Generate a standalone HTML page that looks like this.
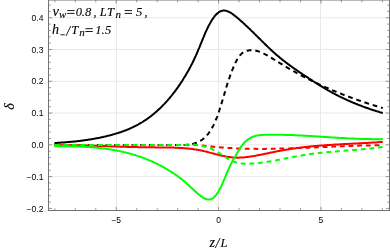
<!DOCTYPE html>
<html><head><meta charset="utf-8"><style>
html,body{margin:0;padding:0;background:#fff;}
body{width:390px;height:252px;overflow:hidden;position:relative;font-family:"Liberation Serif",serif;}
svg{position:absolute;left:0;top:0;}
.t{font-family:"Liberation Serif",serif;font-style:italic;fill:#000;stroke:#000;stroke-width:0.12px;}
</style></head><body>
<svg width="390" height="252" viewBox="0 0 390 252">
<line x1="48.5" x2="389.5" y1="176.63" y2="176.63" stroke="#e9e9e9" stroke-width="1"/>
<line x1="48.5" x2="389.5" y1="144.85" y2="144.85" stroke="#e9e9e9" stroke-width="1"/>
<line x1="48.5" x2="389.5" y1="113.07" y2="113.07" stroke="#e9e9e9" stroke-width="1"/>
<line x1="48.5" x2="389.5" y1="81.29" y2="81.29" stroke="#e9e9e9" stroke-width="1"/>
<line x1="48.5" x2="389.5" y1="49.51" y2="49.51" stroke="#e9e9e9" stroke-width="1"/>
<line x1="48.5" x2="389.5" y1="17.73" y2="17.73" stroke="#e9e9e9" stroke-width="1"/>
<line x1="116.50" x2="116.50" y1="0.0" y2="210.5" stroke="#e9e9e9" stroke-width="1"/>
<line x1="218.50" x2="218.50" y1="0.0" y2="210.5" stroke="#e9e9e9" stroke-width="1"/>
<line x1="320.50" x2="320.50" y1="0.0" y2="210.5" stroke="#e9e9e9" stroke-width="1"/>
<path d="M54.4,143.0 L55.2,143.0 L56.0,142.9 L56.9,142.9 L57.7,142.8 L58.5,142.8 L59.3,142.7 L60.2,142.7 L61.0,142.6 L61.8,142.6 L62.6,142.5 L63.5,142.5 L64.3,142.4 L65.1,142.3 L65.9,142.3 L66.7,142.2 L67.6,142.1 L68.4,142.1 L69.2,142.0 L70.0,141.9 L70.9,141.8 L71.7,141.8 L72.5,141.7 L73.3,141.6 L74.2,141.5 L75.0,141.4 L75.8,141.4 L76.6,141.3 L77.4,141.2 L78.3,141.1 L79.1,141.0 L79.9,140.9 L80.7,140.8 L81.6,140.7 L82.4,140.6 L83.2,140.5 L84.0,140.3 L84.9,140.2 L85.7,140.1 L86.5,140.0 L87.3,139.9 L88.1,139.7 L89.0,139.6 L89.8,139.5 L90.6,139.4 L91.4,139.2 L92.3,139.1 L93.1,138.9 L93.9,138.8 L94.7,138.6 L95.6,138.5 L96.4,138.3 L97.2,138.2 L98.0,138.0 L98.8,137.9 L99.7,137.7 L100.5,137.5 L101.3,137.3 L102.1,137.2 L103.0,137.0 L103.8,136.8 L104.6,136.6 L105.4,136.4 L106.3,136.2 L107.1,136.0 L107.9,135.8 L108.7,135.6 L109.5,135.4 L110.4,135.2 L111.2,135.0 L112.0,134.8 L112.8,134.5 L113.7,134.3 L114.5,134.1 L115.3,133.8 L116.1,133.6 L117.0,133.3 L117.8,133.1 L118.6,132.8 L119.4,132.6 L120.2,132.3 L121.1,132.0 L121.9,131.7 L122.7,131.4 L123.5,131.1 L124.4,130.8 L125.2,130.5 L126.0,130.2 L126.8,129.9 L127.7,129.5 L128.5,129.2 L129.3,128.8 L130.1,128.5 L130.9,128.1 L131.8,127.7 L132.6,127.3 L133.4,126.9 L134.2,126.5 L135.1,126.1 L135.9,125.7 L136.7,125.3 L137.5,124.8 L138.4,124.4 L139.2,123.9 L140.0,123.4 L140.8,123.0 L141.6,122.5 L142.5,122.0 L143.3,121.5 L144.1,120.9 L144.9,120.4 L145.8,119.8 L146.6,119.3 L147.4,118.7 L148.2,118.1 L149.1,117.5 L149.9,116.9 L150.7,116.3 L151.5,115.7 L152.3,115.0 L153.2,114.3 L154.0,113.7 L154.8,113.0 L155.6,112.3 L156.5,111.6 L157.3,110.8 L158.1,110.1 L158.9,109.3 L159.8,108.5 L160.6,107.8 L161.4,106.9 L162.2,106.1 L163.0,105.3 L163.9,104.4 L164.7,103.6 L165.5,102.7 L166.3,101.8 L167.2,100.8 L168.0,99.9 L168.8,99.0 L169.6,98.0 L170.5,97.0 L171.3,96.0 L172.1,95.0 L172.9,93.9 L173.7,92.9 L174.6,91.8 L175.4,90.7 L176.2,89.6 L177.0,88.4 L177.9,87.3 L178.7,86.1 L179.5,84.9 L180.3,83.7 L181.2,82.4 L182.0,81.2 L182.8,79.9 L183.6,78.6 L184.4,77.3 L185.3,75.9 L186.1,74.5 L186.9,73.1 L187.7,71.7 L188.6,70.2 L189.4,68.7 L190.2,67.2 L191.0,65.6 L191.9,64.0 L192.7,62.4 L193.5,60.7 L194.3,58.9 L195.1,57.2 L196.0,55.4 L196.8,53.5 L197.6,51.6 L198.4,49.6 L199.3,47.6 L200.1,45.6 L200.9,43.6 L201.7,41.6 L202.6,39.5 L203.4,37.5 L204.2,35.6 L205.0,33.6 L205.8,31.7 L206.7,29.9 L207.5,28.2 L208.3,26.5 L209.1,24.9 L210.0,23.4 L210.8,21.9 L211.6,20.6 L212.4,19.3 L213.3,18.1 L214.1,17.0 L214.9,15.9 L215.7,15.0 L216.5,14.1 L217.4,13.4 L218.2,12.7 L219.0,12.1 L219.8,11.6 L220.7,11.2 L221.5,10.9 L222.3,10.7 L223.1,10.6 L223.9,10.5 L224.8,10.6 L225.6,10.7 L226.4,10.9 L227.2,11.1 L228.1,11.5 L228.9,11.8 L229.7,12.3 L230.5,12.7 L231.4,13.2 L232.2,13.8 L233.0,14.4 L233.8,15.0 L234.6,15.6 L235.5,16.3 L236.3,16.9 L237.1,17.6 L237.9,18.3 L238.8,19.0 L239.6,19.7 L240.4,20.4 L241.2,21.2 L242.1,21.9 L242.9,22.6 L243.7,23.4 L244.5,24.1 L245.3,24.9 L246.2,25.7 L247.0,26.4 L247.8,27.2 L248.6,28.0 L249.5,28.8 L250.3,29.6 L251.1,30.4 L251.9,31.2 L252.8,32.0 L253.6,32.8 L254.4,33.6 L255.2,34.4 L256.0,35.2 L256.9,36.1 L257.7,36.9 L258.5,37.7 L259.3,38.5 L260.2,39.3 L261.0,40.1 L261.8,40.9 L262.6,41.8 L263.5,42.6 L264.3,43.4 L265.1,44.2 L265.9,45.0 L266.7,45.8 L267.6,46.6 L268.4,47.4 L269.2,48.1 L270.0,48.9 L270.9,49.7 L271.7,50.5 L272.5,51.2 L273.3,52.0 L274.2,52.7 L275.0,53.4 L275.8,54.2 L276.6,54.9 L277.4,55.6 L278.3,56.3 L279.1,57.0 L279.9,57.7 L280.7,58.4 L281.6,59.0 L282.4,59.7 L283.2,60.4 L284.0,61.0 L284.9,61.6 L285.7,62.3 L286.5,62.9 L287.3,63.5 L288.1,64.1 L289.0,64.7 L289.8,65.4 L290.6,65.9 L291.4,66.5 L292.3,67.1 L293.1,67.7 L293.9,68.3 L294.7,68.9 L295.6,69.4 L296.4,70.0 L297.2,70.6 L298.0,71.1 L298.8,71.7 L299.7,72.3 L300.5,72.8 L301.3,73.4 L302.1,73.9 L303.0,74.5 L303.8,75.0 L304.6,75.6 L305.4,76.1 L306.3,76.7 L307.1,77.2 L307.9,77.7 L308.7,78.3 L309.5,78.8 L310.4,79.4 L311.2,79.9 L312.0,80.4 L312.8,81.0 L313.7,81.5 L314.5,82.0 L315.3,82.6 L316.1,83.1 L317.0,83.6 L317.8,84.1 L318.6,84.6 L319.4,85.1 L320.2,85.7 L321.1,86.2 L321.9,86.7 L322.7,87.2 L323.5,87.7 L324.4,88.1 L325.2,88.6 L326.0,89.1 L326.8,89.6 L327.7,90.1 L328.5,90.5 L329.3,91.0 L330.1,91.5 L330.9,91.9 L331.8,92.4 L332.6,92.8 L333.4,93.3 L334.2,93.7 L335.1,94.1 L335.9,94.6 L336.7,95.0 L337.5,95.4 L338.4,95.8 L339.2,96.3 L340.0,96.7 L340.8,97.1 L341.6,97.5 L342.5,97.9 L343.3,98.3 L344.1,98.6 L344.9,99.0 L345.8,99.4 L346.6,99.8 L347.4,100.2 L348.2,100.5 L349.1,100.9 L349.9,101.3 L350.7,101.6 L351.5,102.0 L352.3,102.3 L353.2,102.7 L354.0,103.0 L354.8,103.3 L355.6,103.7 L356.5,104.0 L357.3,104.3 L358.1,104.7 L358.9,105.0 L359.8,105.3 L360.6,105.6 L361.4,105.9 L362.2,106.2 L363.0,106.6 L363.9,106.9 L364.7,107.2 L365.5,107.5 L366.3,107.7 L367.2,108.0 L368.0,108.3 L368.8,108.6 L369.6,108.9 L370.5,109.2 L371.3,109.5 L372.1,109.7 L372.9,110.0 L373.7,110.3 L374.6,110.5 L375.4,110.8 L376.2,111.1 L377.0,111.3 L377.9,111.6 L378.7,111.8 L379.5,112.1 L380.3,112.4 L381.2,112.6 L382.0,112.8 L382.8,113.1" fill="none" stroke="#000" stroke-width="2.0" stroke-linejoin="round"/>
<path d="M54.4,144.9 L185.0,144.9 L185.5,144.9 L186.0,144.9 L186.5,144.9 L187.0,144.8 L187.5,144.8 L188.0,144.7 L188.5,144.7 L189.0,144.6 L189.5,144.5 L190.0,144.5 L190.5,144.4 L190.9,144.3 L191.4,144.2 L191.9,144.1 L192.4,144.0 L192.9,143.9 L193.4,143.7 L193.9,143.6 L194.4,143.5 L194.9,143.3 L195.4,143.1 L195.9,143.0 L196.4,142.8 L196.9,142.6 L197.4,142.4 L197.9,142.1 L198.4,141.9 L198.9,141.7 L199.4,141.4 L199.9,141.1 L200.4,140.8 L200.9,140.5 L201.4,140.2 L201.9,139.9 L202.4,139.5 L202.8,139.2 L203.3,138.8 L203.8,138.4 L204.3,137.9 L204.8,137.5 L205.3,137.0 L205.8,136.5 L206.3,136.0 L206.8,135.5 L207.3,134.9 L207.8,134.3 L208.3,133.7 L208.8,133.0 L209.3,132.3 L209.8,131.6 L210.3,130.9 L210.8,130.1 L211.3,129.3 L211.8,128.4 L212.3,127.5 L212.8,126.6 L213.3,125.6 L213.8,124.6 L214.2,123.6 L214.7,122.5 L215.2,121.4 L215.7,120.2 L216.2,119.0 L216.7,117.8 L217.2,116.5 L217.7,115.1 L218.2,113.7 L218.7,112.3 L219.2,110.8 L219.7,109.3 L220.2,107.7 L220.7,106.1 L221.2,104.5 L221.7,102.9 L222.2,101.2 L222.7,99.5 L223.2,97.9 L223.7,96.2 L224.2,94.5 L224.7,92.9 L225.2,91.2 L225.7,89.6 L226.1,88.0 L226.6,86.4 L227.1,84.8 L227.6,83.3 L228.1,81.7 L228.6,80.2 L229.1,78.7 L229.6,77.3 L230.1,75.8 L230.6,74.5 L231.1,73.1 L231.6,71.8 L232.1,70.5 L232.6,69.2 L233.1,68.0 L233.6,66.8 L234.1,65.6 L234.6,64.5 L235.1,63.4 L235.6,62.4 L236.1,61.4 L236.6,60.5 L237.1,59.6 L237.5,58.8 L238.0,58.0 L238.5,57.2 L239.0,56.5 L239.5,55.9 L240.0,55.3 L240.5,54.7 L241.0,54.2 L241.5,53.8 L242.0,53.3 L242.5,52.9 L243.0,52.6 L243.5,52.3 L244.0,52.0 L244.5,51.7 L245.0,51.5 L245.5,51.3 L246.0,51.1 L246.5,50.9 L247.0,50.8 L247.5,50.7 L248.0,50.6 L248.5,50.5 L249.0,50.4 L249.4,50.3 L249.9,50.3 L250.4,50.3 L250.9,50.2 L251.4,50.2 L251.9,50.2 L252.4,50.3 L252.9,50.3 L253.4,50.3 L253.9,50.4 L254.4,50.5 L254.9,50.5 L255.4,50.6 L255.9,50.7 L256.4,50.8 L256.9,51.0 L257.4,51.1 L257.9,51.2 L258.4,51.4 L258.9,51.6 L259.4,51.7 L259.9,51.9 L260.4,52.1 L260.8,52.3 L261.3,52.5 L261.8,52.7 L262.3,52.9 L262.8,53.1 L263.3,53.4 L263.8,53.6 L264.3,53.9 L264.8,54.1 L265.3,54.4 L265.8,54.6 L266.3,54.9 L266.8,55.2 L267.3,55.4 L267.8,55.7 L268.3,56.0 L268.8,56.3 L269.3,56.6 L269.8,56.9 L270.3,57.2 L270.8,57.5 L271.3,57.8 L271.8,58.1 L272.3,58.4 L272.7,58.7 L273.2,59.0 L273.7,59.3 L274.2,59.6 L274.7,59.9 L275.2,60.3 L275.7,60.6 L276.2,60.9 L276.7,61.2 L277.2,61.5 L277.7,61.8 L278.2,62.1 L278.7,62.4 L279.2,62.7 L279.7,63.0 L280.2,63.3 L280.7,63.6 L281.2,63.9 L281.7,64.2 L282.2,64.5 L282.7,64.8 L283.2,65.1 L283.7,65.4 L284.1,65.7 L284.6,66.0 L285.1,66.3 L285.6,66.6 L286.1,66.9 L286.6,67.2 L287.1,67.5 L287.6,67.8 L288.1,68.1 L288.6,68.4 L289.1,68.7 L289.6,68.9 L290.1,69.2 L290.6,69.5 L291.1,69.8 L291.6,70.1 L292.1,70.4 L292.6,70.6 L293.1,70.9 L293.6,71.2 L294.1,71.5 L294.6,71.7 L295.1,72.0 L295.5,72.3 L296.0,72.6 L296.5,72.8 L297.0,73.1 L297.5,73.4 L298.0,73.7 L298.5,73.9 L299.0,74.2 L299.5,74.5 L300.0,74.7 L300.5,75.0 L301.0,75.3 L301.5,75.5 L302.0,75.8 L302.5,76.1 L303.0,76.3 L303.5,76.6 L304.0,76.8 L304.5,77.1 L305.0,77.3 L305.5,77.6 L306.0,77.9 L306.5,78.1 L307.0,78.4 L307.4,78.6 L307.9,78.9 L308.4,79.1 L308.9,79.4 L309.4,79.6 L309.9,79.9 L310.4,80.1 L310.9,80.4 L311.4,80.6 L311.9,80.9 L312.4,81.1 L312.9,81.3 L313.4,81.6 L313.9,81.8 L314.4,82.1 L314.9,82.3 L315.4,82.5 L315.9,82.8 L316.4,83.0 L316.9,83.3 L317.4,83.5 L317.9,83.7 L318.4,84.0 L318.8,84.2 L319.3,84.4 L319.8,84.7 L320.3,84.9 L320.8,85.1 L321.3,85.3 L321.8,85.6 L322.3,85.8 L322.8,86.0 L323.3,86.2 L323.8,86.5 L324.3,86.7 L324.8,86.9 L325.3,87.1 L325.8,87.4 L326.3,87.6 L326.8,87.8 L327.3,88.0 L327.8,88.2 L328.3,88.4 L328.8,88.7 L329.3,88.9 L329.8,89.1 L330.3,89.3 L330.7,89.5 L331.2,89.7 L331.7,89.9 L332.2,90.1 L332.7,90.4 L333.2,90.6 L333.7,90.8 L334.2,91.0 L334.7,91.2 L335.2,91.4 L335.7,91.6 L336.2,91.8 L336.7,92.0 L337.2,92.2 L337.7,92.4 L338.2,92.6 L338.7,92.8 L339.2,93.0 L339.7,93.2 L340.2,93.4 L340.7,93.6 L341.2,93.8 L341.7,94.0 L342.1,94.2 L342.6,94.4 L343.1,94.6 L343.6,94.8 L344.1,95.0 L344.6,95.2 L345.1,95.4 L345.6,95.5 L346.1,95.7 L346.6,95.9 L347.1,96.1 L347.6,96.3 L348.1,96.5 L348.6,96.7 L349.1,96.9 L349.6,97.0 L350.1,97.2 L350.6,97.4 L351.1,97.6 L351.6,97.8 L352.1,98.0 L352.6,98.1 L353.1,98.3 L353.6,98.5 L354.0,98.7 L354.5,98.9 L355.0,99.0 L355.5,99.2 L356.0,99.4 L356.5,99.6 L357.0,99.7 L357.5,99.9 L358.0,100.1 L358.5,100.3 L359.0,100.4 L359.5,100.6 L360.0,100.8 L360.5,100.9 L361.0,101.1 L361.5,101.3 L362.0,101.5 L362.5,101.6 L363.0,101.8 L363.5,102.0 L364.0,102.1 L364.5,102.3 L365.0,102.5 L365.4,102.6 L365.9,102.8 L366.4,103.0 L366.9,103.1 L367.4,103.3 L367.9,103.4 L368.4,103.6 L368.9,103.8 L369.4,103.9 L369.9,104.1 L370.4,104.2 L370.9,104.4 L371.4,104.6 L371.9,104.7 L372.4,104.9 L372.9,105.0 L373.4,105.2 L373.9,105.4 L374.4,105.5 L374.9,105.7 L375.4,105.8 L375.9,106.0 L376.4,106.1 L376.9,106.3 L377.3,106.4 L377.8,106.6 L378.3,106.7 L378.8,106.9 L379.3,107.0 L379.8,107.2 L380.3,107.3 L380.8,107.5 L381.3,107.6 L381.8,107.8 L382.3,107.9 L382.8,108.1" fill="none" stroke="#000" stroke-width="2.0" stroke-dasharray="4.8 3.875" stroke-dashoffset="0.9" stroke-linejoin="round"/>
<path d="M54.4,145.2 L55.2,145.2 L56.0,145.2 L56.9,145.2 L57.7,145.2 L58.5,145.2 L59.3,145.2 L60.2,145.2 L61.0,145.2 L61.8,145.2 L62.6,145.2 L63.5,145.2 L64.3,145.2 L65.1,145.2 L65.9,145.2 L66.7,145.2 L67.6,145.2 L68.4,145.2 L69.2,145.2 L70.0,145.2 L70.9,145.2 L71.7,145.2 L72.5,145.2 L73.3,145.3 L74.2,145.3 L75.0,145.3 L75.8,145.3 L76.6,145.3 L77.4,145.3 L78.3,145.3 L79.1,145.4 L79.9,145.4 L80.7,145.4 L81.6,145.4 L82.4,145.4 L83.2,145.5 L84.0,145.5 L84.9,145.5 L85.7,145.5 L86.5,145.5 L87.3,145.6 L88.1,145.6 L89.0,145.6 L89.8,145.6 L90.6,145.7 L91.4,145.7 L92.3,145.7 L93.1,145.7 L93.9,145.8 L94.7,145.8 L95.6,145.8 L96.4,145.8 L97.2,145.9 L98.0,145.9 L98.8,145.9 L99.7,145.9 L100.5,146.0 L101.3,146.0 L102.1,146.0 L103.0,146.1 L103.8,146.1 L104.6,146.1 L105.4,146.1 L106.3,146.2 L107.1,146.2 L107.9,146.2 L108.7,146.3 L109.5,146.3 L110.4,146.3 L111.2,146.4 L112.0,146.4 L112.8,146.4 L113.7,146.4 L114.5,146.5 L115.3,146.5 L116.1,146.5 L117.0,146.6 L117.8,146.6 L118.6,146.6 L119.4,146.6 L120.2,146.7 L121.1,146.7 L121.9,146.7 L122.7,146.7 L123.5,146.8 L124.4,146.8 L125.2,146.8 L126.0,146.8 L126.8,146.9 L127.7,146.9 L128.5,146.9 L129.3,146.9 L130.1,147.0 L130.9,147.0 L131.8,147.0 L132.6,147.0 L133.4,147.0 L134.2,147.1 L135.1,147.1 L135.9,147.1 L136.7,147.1 L137.5,147.1 L138.4,147.2 L139.2,147.2 L140.0,147.2 L140.8,147.2 L141.6,147.2 L142.5,147.2 L143.3,147.2 L144.1,147.3 L144.9,147.3 L145.8,147.3 L146.6,147.3 L147.4,147.3 L148.2,147.3 L149.1,147.3 L149.9,147.3 L150.7,147.3 L151.5,147.3 L152.3,147.3 L153.2,147.3 L154.0,147.3 L154.8,147.3 L155.6,147.4 L156.5,147.4 L157.3,147.4 L158.1,147.4 L158.9,147.4 L159.8,147.4 L160.6,147.4 L161.4,147.4 L162.2,147.4 L163.0,147.4 L163.9,147.4 L164.7,147.4 L165.5,147.4 L166.3,147.5 L167.2,147.5 L168.0,147.5 L168.8,147.5 L169.6,147.5 L170.5,147.5 L171.3,147.6 L172.1,147.6 L172.9,147.6 L173.7,147.6 L174.6,147.7 L175.4,147.7 L176.2,147.7 L177.0,147.8 L177.9,147.8 L178.7,147.9 L179.5,147.9 L180.3,147.9 L181.2,148.0 L182.0,148.0 L182.8,148.1 L183.6,148.2 L184.4,148.2 L185.3,148.3 L186.1,148.3 L186.9,148.4 L187.7,148.5 L188.6,148.6 L189.4,148.7 L190.2,148.7 L191.0,148.8 L191.9,148.9 L192.7,149.0 L193.5,149.2 L194.3,149.3 L195.1,149.4 L196.0,149.5 L196.8,149.7 L197.6,149.8 L198.4,150.0 L199.3,150.1 L200.1,150.3 L200.9,150.5 L201.7,150.6 L202.6,150.8 L203.4,151.0 L204.2,151.2 L205.0,151.4 L205.8,151.6 L206.7,151.8 L207.5,152.0 L208.3,152.2 L209.1,152.4 L210.0,152.7 L210.8,152.9 L211.6,153.1 L212.4,153.3 L213.3,153.5 L214.1,153.7 L214.9,154.0 L215.7,154.2 L216.5,154.4 L217.4,154.6 L218.2,154.8 L219.0,155.0 L219.8,155.2 L220.7,155.4 L221.5,155.6 L222.3,155.8 L223.1,156.0 L223.9,156.1 L224.8,156.3 L225.6,156.5 L226.4,156.6 L227.2,156.7 L228.1,156.9 L228.9,157.0 L229.7,157.1 L230.5,157.2 L231.4,157.3 L232.2,157.4 L233.0,157.5 L233.8,157.5 L234.6,157.6 L235.5,157.6 L236.3,157.6 L237.1,157.7 L237.9,157.7 L238.8,157.7 L239.6,157.6 L240.4,157.6 L241.2,157.6 L242.1,157.5 L242.9,157.5 L243.7,157.4 L244.5,157.3 L245.3,157.2 L246.2,157.1 L247.0,157.0 L247.8,156.9 L248.6,156.8 L249.5,156.7 L250.3,156.6 L251.1,156.5 L251.9,156.3 L252.8,156.2 L253.6,156.1 L254.4,155.9 L255.2,155.8 L256.0,155.6 L256.9,155.5 L257.7,155.3 L258.5,155.1 L259.3,155.0 L260.2,154.8 L261.0,154.7 L261.8,154.5 L262.6,154.3 L263.5,154.2 L264.3,154.0 L265.1,153.8 L265.9,153.7 L266.7,153.5 L267.6,153.3 L268.4,153.2 L269.2,153.0 L270.0,152.8 L270.9,152.6 L271.7,152.5 L272.5,152.3 L273.3,152.1 L274.2,152.0 L275.0,151.8 L275.8,151.6 L276.6,151.5 L277.4,151.3 L278.3,151.1 L279.1,151.0 L279.9,150.8 L280.7,150.7 L281.6,150.5 L282.4,150.4 L283.2,150.2 L284.0,150.1 L284.9,149.9 L285.7,149.8 L286.5,149.6 L287.3,149.5 L288.1,149.4 L289.0,149.2 L289.8,149.1 L290.6,149.0 L291.4,148.8 L292.3,148.7 L293.1,148.6 L293.9,148.5 L294.7,148.4 L295.6,148.2 L296.4,148.1 L297.2,148.0 L298.0,147.9 L298.8,147.8 L299.7,147.7 L300.5,147.6 L301.3,147.5 L302.1,147.4 L303.0,147.3 L303.8,147.2 L304.6,147.1 L305.4,147.0 L306.3,146.9 L307.1,146.8 L307.9,146.7 L308.7,146.7 L309.5,146.6 L310.4,146.5 L311.2,146.4 L312.0,146.3 L312.8,146.2 L313.7,146.2 L314.5,146.1 L315.3,146.0 L316.1,146.0 L317.0,145.9 L317.8,145.8 L318.6,145.7 L319.4,145.7 L320.2,145.6 L321.1,145.5 L321.9,145.5 L322.7,145.4 L323.5,145.4 L324.4,145.3 L325.2,145.2 L326.0,145.2 L326.8,145.1 L327.7,145.1 L328.5,145.0 L329.3,145.0 L330.1,144.9 L330.9,144.9 L331.8,144.8 L332.6,144.7 L333.4,144.7 L334.2,144.6 L335.1,144.6 L335.9,144.6 L336.7,144.5 L337.5,144.5 L338.4,144.4 L339.2,144.4 L340.0,144.3 L340.8,144.3 L341.6,144.2 L342.5,144.2 L343.3,144.1 L344.1,144.1 L344.9,144.1 L345.8,144.0 L346.6,144.0 L347.4,143.9 L348.2,143.9 L349.1,143.8 L349.9,143.8 L350.7,143.8 L351.5,143.7 L352.3,143.7 L353.2,143.6 L354.0,143.6 L354.8,143.6 L355.6,143.5 L356.5,143.5 L357.3,143.4 L358.1,143.4 L358.9,143.3 L359.8,143.3 L360.6,143.3 L361.4,143.2 L362.2,143.2 L363.0,143.1 L363.9,143.1 L364.7,143.0 L365.5,143.0 L366.3,142.9 L367.2,142.9 L368.0,142.9 L368.8,142.8 L369.6,142.8 L370.5,142.7 L371.3,142.7 L372.1,142.6 L372.9,142.6 L373.7,142.5 L374.6,142.5 L375.4,142.4 L376.2,142.4 L377.0,142.3 L377.9,142.3 L378.7,142.2 L379.5,142.1 L380.3,142.1 L381.2,142.0 L382.0,142.0 L382.8,141.9" fill="none" stroke="#f00" stroke-width="2.0" stroke-linejoin="round"/>
<path d="M54.4,144.9 L198.0,144.9 L198.5,145.0 L198.9,145.1 L199.4,145.1 L199.9,145.2 L200.3,145.3 L200.8,145.3 L201.2,145.4 L201.7,145.4 L202.2,145.5 L202.6,145.6 L203.1,145.6 L203.6,145.7 L204.0,145.7 L204.5,145.8 L204.9,145.8 L205.4,145.9 L205.9,146.0 L206.3,146.0 L206.8,146.1 L207.3,146.1 L207.7,146.2 L208.2,146.2 L208.7,146.3 L209.1,146.3 L209.6,146.4 L210.0,146.4 L210.5,146.5 L211.0,146.5 L211.4,146.6 L211.9,146.6 L212.4,146.7 L212.8,146.7 L213.3,146.7 L213.7,146.8 L214.2,146.8 L214.7,146.9 L215.1,146.9 L215.6,147.0 L216.1,147.0 L216.5,147.0 L217.0,147.1 L217.5,147.1 L217.9,147.2 L218.4,147.2 L218.8,147.2 L219.3,147.3 L219.8,147.3 L220.2,147.4 L220.7,147.4 L221.2,147.4 L221.6,147.5 L222.1,147.5 L222.5,147.5 L223.0,147.6 L223.5,147.6 L223.9,147.6 L224.4,147.7 L224.9,147.7 L225.3,147.7 L225.8,147.8 L226.3,147.8 L226.7,147.8 L227.2,147.9 L227.6,147.9 L228.1,147.9 L228.6,147.9 L229.0,148.0 L229.5,148.0 L230.0,148.0 L230.4,148.1 L230.9,148.1 L231.3,148.1 L231.8,148.1 L232.3,148.2 L232.7,148.2 L233.2,148.2 L233.7,148.2 L234.1,148.2 L234.6,148.3 L235.1,148.3 L235.5,148.3 L236.0,148.3 L236.4,148.4 L236.9,148.4 L237.4,148.4 L237.8,148.4 L238.3,148.4 L238.8,148.4 L239.2,148.5 L239.7,148.5 L240.1,148.5 L240.6,148.5 L241.1,148.5 L241.5,148.5 L242.0,148.6 L242.5,148.6 L242.9,148.6 L243.4,148.6 L243.9,148.6 L244.3,148.6 L244.8,148.6 L245.2,148.7 L245.7,148.7 L246.2,148.7 L246.6,148.7 L247.1,148.7 L247.6,148.7 L248.0,148.7 L248.5,148.7 L248.9,148.7 L249.4,148.8 L249.9,148.8 L250.3,148.8 L250.8,148.8 L251.3,148.8 L251.7,148.8 L252.2,148.8 L252.7,148.8 L253.1,148.8 L253.6,148.8 L254.0,148.8 L254.5,148.8 L255.0,148.8 L255.4,148.8 L255.9,148.8 L256.4,148.8 L256.8,148.9 L257.3,148.9 L257.7,148.9 L258.2,148.9 L258.7,148.9 L259.1,148.9 L259.6,148.9 L260.1,148.9 L260.5,148.9 L261.0,148.9 L261.5,148.9 L261.9,148.9 L262.4,148.9 L262.8,148.9 L263.3,148.9 L263.8,148.9 L264.2,148.9 L264.7,148.9 L265.2,148.9 L265.6,148.9 L266.1,148.9 L266.5,148.8 L267.0,148.8 L267.5,148.8 L267.9,148.8 L268.4,148.8 L268.9,148.8 L269.3,148.8 L269.8,148.8 L270.3,148.8 L270.7,148.8 L271.2,148.8 L271.6,148.8 L272.1,148.8 L272.6,148.8 L273.0,148.8 L273.5,148.8 L274.0,148.8 L274.4,148.8 L274.9,148.7 L275.3,148.7 L275.8,148.7 L276.3,148.7 L276.7,148.7 L277.2,148.7 L277.7,148.7 L278.1,148.7 L278.6,148.7 L279.1,148.7 L279.5,148.7 L280.0,148.6 L280.4,148.6 L280.9,148.6 L281.4,148.6 L281.8,148.6 L282.3,148.6 L282.8,148.6 L283.2,148.6 L283.7,148.6 L284.1,148.5 L284.6,148.5 L285.1,148.5 L285.5,148.5 L286.0,148.5 L286.5,148.5 L286.9,148.5 L287.4,148.5 L287.9,148.4 L288.3,148.4 L288.8,148.4 L289.2,148.4 L289.7,148.4 L290.2,148.4 L290.6,148.4 L291.1,148.3 L291.6,148.3 L292.0,148.3 L292.5,148.3 L292.9,148.3 L293.4,148.3 L293.9,148.2 L294.3,148.2 L294.8,148.2 L295.3,148.2 L295.7,148.2 L296.2,148.2 L296.7,148.1 L297.1,148.1 L297.6,148.1 L298.0,148.1 L298.5,148.1 L299.0,148.1 L299.4,148.0 L299.9,148.0 L300.4,148.0 L300.8,148.0 L301.3,148.0 L301.7,148.0 L302.2,147.9 L302.7,147.9 L303.1,147.9 L303.6,147.9 L304.1,147.9 L304.5,147.8 L305.0,147.8 L305.5,147.8 L305.9,147.8 L306.4,147.8 L306.8,147.8 L307.3,147.7 L307.8,147.7 L308.2,147.7 L308.7,147.7 L309.2,147.7 L309.6,147.6 L310.1,147.6 L310.5,147.6 L311.0,147.6 L311.5,147.6 L311.9,147.5 L312.4,147.5 L312.9,147.5 L313.3,147.5 L313.8,147.5 L314.3,147.4 L314.7,147.4 L315.2,147.4 L315.6,147.4 L316.1,147.4 L316.6,147.3 L317.0,147.3 L317.5,147.3 L318.0,147.3 L318.4,147.3 L318.9,147.2 L319.3,147.2 L319.8,147.2 L320.3,147.2 L320.7,147.2 L321.2,147.1 L321.7,147.1 L322.1,147.1 L322.6,147.1 L323.1,147.1 L323.5,147.0 L324.0,147.0 L324.4,147.0 L324.9,147.0 L325.4,147.0 L325.8,146.9 L326.3,146.9 L326.8,146.9 L327.2,146.9 L327.7,146.8 L328.1,146.8 L328.6,146.8 L329.1,146.8 L329.5,146.8 L330.0,146.7 L330.5,146.7 L330.9,146.7 L331.4,146.7 L331.9,146.7 L332.3,146.6 L332.8,146.6 L333.2,146.6 L333.7,146.6 L334.2,146.6 L334.6,146.5 L335.1,146.5 L335.6,146.5 L336.0,146.5 L336.5,146.5 L336.9,146.4 L337.4,146.4 L337.9,146.4 L338.3,146.4 L338.8,146.4 L339.3,146.4 L339.7,146.3 L340.2,146.3 L340.7,146.3 L341.1,146.3 L341.6,146.3 L342.0,146.2 L342.5,146.2 L343.0,146.2 L343.4,146.2 L343.9,146.2 L344.4,146.1 L344.8,146.1 L345.3,146.1 L345.7,146.1 L346.2,146.1 L346.7,146.1 L347.1,146.0 L347.6,146.0 L348.1,146.0 L348.5,146.0 L349.0,146.0 L349.5,146.0 L349.9,145.9 L350.4,145.9 L350.8,145.9 L351.3,145.9 L351.8,145.9 L352.2,145.9 L352.7,145.8 L353.2,145.8 L353.6,145.8 L354.1,145.8 L354.5,145.8 L355.0,145.8 L355.5,145.8 L355.9,145.7 L356.4,145.7 L356.9,145.7 L357.3,145.7 L357.8,145.7 L358.3,145.7 L358.7,145.7 L359.2,145.6 L359.6,145.6 L360.1,145.6 L360.6,145.6 L361.0,145.6 L361.5,145.6 L362.0,145.6 L362.4,145.6 L362.9,145.5 L363.3,145.5 L363.8,145.5 L364.3,145.5 L364.7,145.5 L365.2,145.5 L365.7,145.5 L366.1,145.5 L366.6,145.5 L367.1,145.4 L367.5,145.4 L368.0,145.4 L368.4,145.4 L368.9,145.4 L369.4,145.4 L369.8,145.4 L370.3,145.4 L370.8,145.4 L371.2,145.4 L371.7,145.4 L372.1,145.4 L372.6,145.3 L373.1,145.3 L373.5,145.3 L374.0,145.3 L374.5,145.3 L374.9,145.3 L375.4,145.3 L375.9,145.3 L376.3,145.3 L376.8,145.3 L377.2,145.3 L377.7,145.3 L378.2,145.3 L378.6,145.3 L379.1,145.3 L379.6,145.3 L380.0,145.3 L380.5,145.3 L380.9,145.3 L381.4,145.3 L381.9,145.3 L382.3,145.3 L382.8,145.3" fill="none" stroke="#f00" stroke-width="2.0" stroke-dasharray="4.8 3.875" stroke-linejoin="round"/>
<path d="M54.4,146.2 L55.2,146.2 L56.0,146.2 L56.9,146.2 L57.7,146.2 L58.5,146.2 L59.3,146.2 L60.2,146.2 L61.0,146.2 L61.8,146.3 L62.6,146.3 L63.5,146.3 L64.3,146.3 L65.1,146.3 L65.9,146.3 L66.7,146.3 L67.6,146.3 L68.4,146.3 L69.2,146.3 L70.0,146.3 L70.9,146.4 L71.7,146.4 L72.5,146.4 L73.3,146.4 L74.2,146.4 L75.0,146.5 L75.8,146.5 L76.6,146.5 L77.4,146.5 L78.3,146.6 L79.1,146.6 L79.9,146.6 L80.7,146.7 L81.6,146.7 L82.4,146.7 L83.2,146.8 L84.0,146.8 L84.9,146.8 L85.7,146.9 L86.5,146.9 L87.3,147.0 L88.1,147.0 L89.0,147.1 L89.8,147.1 L90.6,147.2 L91.4,147.3 L92.3,147.3 L93.1,147.4 L93.9,147.5 L94.7,147.5 L95.6,147.6 L96.4,147.7 L97.2,147.8 L98.0,147.8 L98.8,147.9 L99.7,148.0 L100.5,148.1 L101.3,148.2 L102.1,148.3 L103.0,148.4 L103.8,148.5 L104.6,148.6 L105.4,148.7 L106.3,148.8 L107.1,148.9 L107.9,149.0 L108.7,149.2 L109.5,149.3 L110.4,149.4 L111.2,149.6 L112.0,149.7 L112.8,149.8 L113.7,150.0 L114.5,150.1 L115.3,150.3 L116.1,150.4 L117.0,150.6 L117.8,150.7 L118.6,150.9 L119.4,151.1 L120.2,151.2 L121.1,151.4 L121.9,151.6 L122.7,151.8 L123.5,152.0 L124.4,152.2 L125.2,152.4 L126.0,152.6 L126.8,152.8 L127.7,153.0 L128.5,153.2 L129.3,153.4 L130.1,153.7 L130.9,153.9 L131.8,154.1 L132.6,154.4 L133.4,154.6 L134.2,154.9 L135.1,155.1 L135.9,155.4 L136.7,155.6 L137.5,155.9 L138.4,156.2 L139.2,156.4 L140.0,156.7 L140.8,157.0 L141.6,157.3 L142.5,157.6 L143.3,157.9 L144.1,158.2 L144.9,158.5 L145.8,158.9 L146.6,159.2 L147.4,159.5 L148.2,159.9 L149.1,160.2 L149.9,160.6 L150.7,160.9 L151.5,161.3 L152.3,161.6 L153.2,162.0 L154.0,162.4 L154.8,162.8 L155.6,163.2 L156.5,163.6 L157.3,164.0 L158.1,164.4 L158.9,164.8 L159.8,165.2 L160.6,165.6 L161.4,166.1 L162.2,166.5 L163.0,167.0 L163.9,167.4 L164.7,167.9 L165.5,168.4 L166.3,168.8 L167.2,169.3 L168.0,169.8 L168.8,170.3 L169.6,170.8 L170.5,171.3 L171.3,171.8 L172.1,172.4 L172.9,172.9 L173.7,173.5 L174.6,174.0 L175.4,174.6 L176.2,175.2 L177.0,175.7 L177.9,176.3 L178.7,176.9 L179.5,177.6 L180.3,178.2 L181.2,178.8 L182.0,179.5 L182.8,180.2 L183.6,180.8 L184.4,181.5 L185.3,182.2 L186.1,182.9 L186.9,183.7 L187.7,184.4 L188.6,185.2 L189.4,185.9 L190.2,186.7 L191.0,187.5 L191.9,188.2 L192.7,189.0 L193.5,189.8 L194.3,190.6 L195.1,191.3 L196.0,192.1 L196.8,192.8 L197.6,193.5 L198.4,194.2 L199.3,194.9 L200.1,195.5 L200.9,196.2 L201.7,196.7 L202.6,197.3 L203.4,197.8 L204.2,198.2 L205.0,198.6 L205.8,199.0 L206.7,199.2 L207.5,199.4 L208.3,199.5 L209.1,199.6 L210.0,199.5 L210.8,199.3 L211.6,199.0 L212.4,198.5 L213.3,198.0 L214.1,197.3 L214.9,196.4 L215.7,195.5 L216.5,194.4 L217.4,193.2 L218.2,191.9 L219.0,190.5 L219.8,189.0 L220.7,187.4 L221.5,185.7 L222.3,183.9 L223.1,182.1 L223.9,180.2 L224.8,178.2 L225.6,176.2 L226.4,174.2 L227.2,172.2 L228.1,170.3 L228.9,168.4 L229.7,166.6 L230.5,164.8 L231.4,163.2 L232.2,161.6 L233.0,160.2 L233.8,158.8 L234.6,157.4 L235.5,156.0 L236.3,154.5 L237.1,153.1 L237.9,151.8 L238.8,150.4 L239.6,149.1 L240.4,147.8 L241.2,146.6 L242.1,145.5 L242.9,144.4 L243.7,143.4 L244.5,142.5 L245.3,141.7 L246.2,140.9 L247.0,140.2 L247.8,139.6 L248.6,139.0 L249.5,138.5 L250.3,138.0 L251.1,137.6 L251.9,137.2 L252.8,136.8 L253.6,136.5 L254.4,136.2 L255.2,136.0 L256.0,135.8 L256.9,135.6 L257.7,135.4 L258.5,135.3 L259.3,135.2 L260.2,135.1 L261.0,135.0 L261.8,134.9 L262.6,134.9 L263.5,134.8 L264.3,134.8 L265.1,134.8 L265.9,134.7 L266.7,134.7 L267.6,134.7 L268.4,134.7 L269.2,134.7 L270.0,134.7 L270.9,134.7 L271.7,134.7 L272.5,134.7 L273.3,134.7 L274.2,134.7 L275.0,134.7 L275.8,134.7 L276.6,134.7 L277.4,134.7 L278.3,134.7 L279.1,134.7 L279.9,134.7 L280.7,134.8 L281.6,134.8 L282.4,134.8 L283.2,134.8 L284.0,134.8 L284.9,134.9 L285.7,134.9 L286.5,134.9 L287.3,134.9 L288.1,135.0 L289.0,135.0 L289.8,135.0 L290.6,135.0 L291.4,135.1 L292.3,135.1 L293.1,135.1 L293.9,135.2 L294.7,135.2 L295.6,135.2 L296.4,135.3 L297.2,135.3 L298.0,135.4 L298.8,135.4 L299.7,135.4 L300.5,135.5 L301.3,135.5 L302.1,135.6 L303.0,135.6 L303.8,135.7 L304.6,135.7 L305.4,135.7 L306.3,135.8 L307.1,135.8 L307.9,135.9 L308.7,135.9 L309.5,136.0 L310.4,136.0 L311.2,136.1 L312.0,136.1 L312.8,136.2 L313.7,136.2 L314.5,136.3 L315.3,136.3 L316.1,136.4 L317.0,136.4 L317.8,136.5 L318.6,136.5 L319.4,136.6 L320.2,136.7 L321.1,136.7 L321.9,136.8 L322.7,136.8 L323.5,136.9 L324.4,136.9 L325.2,137.0 L326.0,137.0 L326.8,137.1 L327.7,137.1 L328.5,137.2 L329.3,137.2 L330.1,137.3 L330.9,137.3 L331.8,137.4 L332.6,137.4 L333.4,137.5 L334.2,137.6 L335.1,137.6 L335.9,137.7 L336.7,137.7 L337.5,137.8 L338.4,137.8 L339.2,137.9 L340.0,137.9 L340.8,138.0 L341.6,138.0 L342.5,138.0 L343.3,138.1 L344.1,138.1 L344.9,138.2 L345.8,138.2 L346.6,138.3 L347.4,138.3 L348.2,138.4 L349.1,138.4 L349.9,138.4 L350.7,138.5 L351.5,138.5 L352.3,138.6 L353.2,138.6 L354.0,138.6 L354.8,138.7 L355.6,138.7 L356.5,138.7 L357.3,138.8 L358.1,138.8 L358.9,138.8 L359.8,138.9 L360.6,138.9 L361.4,138.9 L362.2,139.0 L363.0,139.0 L363.9,139.0 L364.7,139.0 L365.5,139.0 L366.3,139.1 L367.2,139.1 L368.0,139.1 L368.8,139.1 L369.6,139.1 L370.5,139.1 L371.3,139.1 L372.1,139.2 L372.9,139.2 L373.7,139.2 L374.6,139.2 L375.4,139.2 L376.2,139.2 L377.0,139.2 L377.9,139.2 L378.7,139.2 L379.5,139.2 L380.3,139.2 L381.2,139.2 L382.0,139.1 L382.8,139.1" fill="none" stroke="#0f0" stroke-width="2.0" stroke-linejoin="round"/>
<path d="M54.4,144.9 L185.0,145.0 L185.5,144.9 L186.0,144.8 L186.5,144.8 L187.0,144.7 L187.5,144.7 L188.0,144.6 L188.5,144.6 L189.0,144.6 L189.5,144.6 L190.0,144.6 L190.5,144.5 L190.9,144.5 L191.4,144.5 L191.9,144.5 L192.4,144.5 L192.9,144.6 L193.4,144.6 L193.9,144.6 L194.4,144.6 L194.9,144.7 L195.4,144.7 L195.9,144.8 L196.4,144.8 L196.9,144.9 L197.4,144.9 L197.9,145.0 L198.4,145.1 L198.9,145.2 L199.4,145.2 L199.9,145.3 L200.4,145.4 L200.9,145.5 L201.4,145.6 L201.9,145.7 L202.4,145.9 L202.8,146.0 L203.3,146.1 L203.8,146.2 L204.3,146.4 L204.8,146.5 L205.3,146.7 L205.8,146.8 L206.3,147.0 L206.8,147.1 L207.3,147.3 L207.8,147.5 L208.3,147.7 L208.8,147.9 L209.3,148.0 L209.8,148.2 L210.3,148.4 L210.8,148.7 L211.3,148.9 L211.8,149.1 L212.3,149.3 L212.8,149.5 L213.3,149.8 L213.8,150.0 L214.2,150.3 L214.7,150.5 L215.2,150.8 L215.7,151.0 L216.2,151.3 L216.7,151.6 L217.2,151.9 L217.7,152.2 L218.2,152.5 L218.7,152.8 L219.2,153.1 L219.7,153.4 L220.2,153.7 L220.7,154.0 L221.2,154.3 L221.7,154.6 L222.2,155.0 L222.7,155.3 L223.2,155.6 L223.7,155.9 L224.2,156.3 L224.7,156.6 L225.2,156.9 L225.7,157.2 L226.1,157.6 L226.6,157.9 L227.1,158.2 L227.6,158.5 L228.1,158.8 L228.6,159.1 L229.1,159.4 L229.6,159.6 L230.1,159.9 L230.6,160.2 L231.1,160.4 L231.6,160.7 L232.1,160.9 L232.6,161.1 L233.1,161.4 L233.6,161.6 L234.1,161.8 L234.6,161.9 L235.1,162.1 L235.6,162.3 L236.1,162.4 L236.6,162.6 L237.1,162.7 L237.5,162.8 L238.0,162.9 L238.5,163.0 L239.0,163.1 L239.5,163.2 L240.0,163.3 L240.5,163.4 L241.0,163.4 L241.5,163.5 L242.0,163.6 L242.5,163.6 L243.0,163.6 L243.5,163.7 L244.0,163.7 L244.5,163.7 L245.0,163.7 L245.5,163.7 L246.0,163.8 L246.5,163.8 L247.0,163.8 L247.5,163.8 L248.0,163.7 L248.5,163.7 L249.0,163.7 L249.4,163.7 L249.9,163.7 L250.4,163.7 L250.9,163.6 L251.4,163.6 L251.9,163.6 L252.4,163.5 L252.9,163.5 L253.4,163.5 L253.9,163.4 L254.4,163.4 L254.9,163.4 L255.4,163.3 L255.9,163.3 L256.4,163.2 L256.9,163.2 L257.4,163.1 L257.9,163.1 L258.4,163.0 L258.9,163.0 L259.4,162.9 L259.9,162.8 L260.4,162.8 L260.8,162.7 L261.3,162.7 L261.8,162.6 L262.3,162.5 L262.8,162.5 L263.3,162.4 L263.8,162.3 L264.3,162.3 L264.8,162.2 L265.3,162.1 L265.8,162.0 L266.3,162.0 L266.8,161.9 L267.3,161.8 L267.8,161.7 L268.3,161.7 L268.8,161.6 L269.3,161.5 L269.8,161.4 L270.3,161.3 L270.8,161.2 L271.3,161.2 L271.8,161.1 L272.3,161.0 L272.7,160.9 L273.2,160.8 L273.7,160.7 L274.2,160.6 L274.7,160.5 L275.2,160.5 L275.7,160.4 L276.2,160.3 L276.7,160.2 L277.2,160.1 L277.7,160.0 L278.2,159.9 L278.7,159.8 L279.2,159.7 L279.7,159.6 L280.2,159.5 L280.7,159.4 L281.2,159.3 L281.7,159.2 L282.2,159.1 L282.7,159.0 L283.2,158.9 L283.7,158.8 L284.1,158.7 L284.6,158.6 L285.1,158.5 L285.6,158.4 L286.1,158.3 L286.6,158.2 L287.1,158.1 L287.6,158.0 L288.1,157.9 L288.6,157.8 L289.1,157.7 L289.6,157.7 L290.1,157.6 L290.6,157.5 L291.1,157.4 L291.6,157.3 L292.1,157.2 L292.6,157.1 L293.1,157.0 L293.6,156.9 L294.1,156.8 L294.6,156.7 L295.1,156.6 L295.5,156.5 L296.0,156.4 L296.5,156.3 L297.0,156.2 L297.5,156.1 L298.0,156.0 L298.5,156.0 L299.0,155.9 L299.5,155.8 L300.0,155.7 L300.5,155.6 L301.0,155.5 L301.5,155.4 L302.0,155.4 L302.5,155.3 L303.0,155.2 L303.5,155.1 L304.0,155.0 L304.5,155.0 L305.0,154.9 L305.5,154.8 L306.0,154.7 L306.5,154.6 L307.0,154.6 L307.4,154.5 L307.9,154.4 L308.4,154.4 L308.9,154.3 L309.4,154.2 L309.9,154.1 L310.4,154.1 L310.9,154.0 L311.4,153.9 L311.9,153.9 L312.4,153.8 L312.9,153.7 L313.4,153.7 L313.9,153.6 L314.4,153.6 L314.9,153.5 L315.4,153.4 L315.9,153.4 L316.4,153.3 L316.9,153.3 L317.4,153.2 L317.9,153.1 L318.4,153.1 L318.8,153.0 L319.3,153.0 L319.8,152.9 L320.3,152.9 L320.8,152.8 L321.3,152.8 L321.8,152.7 L322.3,152.7 L322.8,152.6 L323.3,152.6 L323.8,152.5 L324.3,152.5 L324.8,152.4 L325.3,152.4 L325.8,152.3 L326.3,152.3 L326.8,152.2 L327.3,152.2 L327.8,152.1 L328.3,152.1 L328.8,152.0 L329.3,152.0 L329.8,151.9 L330.3,151.9 L330.7,151.9 L331.2,151.8 L331.7,151.8 L332.2,151.7 L332.7,151.7 L333.2,151.6 L333.7,151.6 L334.2,151.6 L334.7,151.5 L335.2,151.5 L335.7,151.4 L336.2,151.4 L336.7,151.4 L337.2,151.3 L337.7,151.3 L338.2,151.2 L338.7,151.2 L339.2,151.2 L339.7,151.1 L340.2,151.1 L340.7,151.0 L341.2,151.0 L341.7,151.0 L342.1,150.9 L342.6,150.9 L343.1,150.8 L343.6,150.8 L344.1,150.8 L344.6,150.7 L345.1,150.7 L345.6,150.6 L346.1,150.6 L346.6,150.6 L347.1,150.5 L347.6,150.5 L348.1,150.5 L348.6,150.4 L349.1,150.4 L349.6,150.3 L350.1,150.3 L350.6,150.3 L351.1,150.2 L351.6,150.2 L352.1,150.1 L352.6,150.1 L353.1,150.1 L353.6,150.0 L354.0,150.0 L354.5,149.9 L355.0,149.9 L355.5,149.9 L356.0,149.8 L356.5,149.8 L357.0,149.7 L357.5,149.7 L358.0,149.7 L358.5,149.6 L359.0,149.6 L359.5,149.5 L360.0,149.5 L360.5,149.4 L361.0,149.4 L361.5,149.3 L362.0,149.3 L362.5,149.3 L363.0,149.2 L363.5,149.2 L364.0,149.1 L364.5,149.1 L365.0,149.0 L365.4,149.0 L365.9,148.9 L366.4,148.9 L366.9,148.8 L367.4,148.8 L367.9,148.7 L368.4,148.7 L368.9,148.6 L369.4,148.6 L369.9,148.5 L370.4,148.5 L370.9,148.4 L371.4,148.4 L371.9,148.3 L372.4,148.3 L372.9,148.2 L373.4,148.1 L373.9,148.1 L374.4,148.0 L374.9,148.0 L375.4,147.9 L375.9,147.8 L376.4,147.8 L376.9,147.7 L377.3,147.7 L377.8,147.6 L378.3,147.5 L378.8,147.5 L379.3,147.4 L379.8,147.3 L380.3,147.3 L380.8,147.2 L381.3,147.1 L381.8,147.1 L382.3,147.0 L382.8,146.9" fill="none" stroke="#0f0" stroke-width="2.0" stroke-dasharray="4.8 3.875" stroke-linejoin="round"/>
<rect x="48.5" y="0.0" width="341.0" height="210.5" fill="none" stroke="#727272" stroke-width="1"/>
<path d="M48.5,208.41h3.6 M389.5,208.41h-3.6 M48.5,202.05h2.3 M389.5,202.05h-2.3 M48.5,195.70h2.3 M389.5,195.70h-2.3 M48.5,189.34h2.3 M389.5,189.34h-2.3 M48.5,182.99h2.3 M389.5,182.99h-2.3 M48.5,176.63h3.6 M389.5,176.63h-3.6 M48.5,170.27h2.3 M389.5,170.27h-2.3 M48.5,163.92h2.3 M389.5,163.92h-2.3 M48.5,157.56h2.3 M389.5,157.56h-2.3 M48.5,151.21h2.3 M389.5,151.21h-2.3 M48.5,144.85h3.6 M389.5,144.85h-3.6 M48.5,138.49h2.3 M389.5,138.49h-2.3 M48.5,132.14h2.3 M389.5,132.14h-2.3 M48.5,125.78h2.3 M389.5,125.78h-2.3 M48.5,119.43h2.3 M389.5,119.43h-2.3 M48.5,113.07h3.6 M389.5,113.07h-3.6 M48.5,106.71h2.3 M389.5,106.71h-2.3 M48.5,100.36h2.3 M389.5,100.36h-2.3 M48.5,94.00h2.3 M389.5,94.00h-2.3 M48.5,87.65h2.3 M389.5,87.65h-2.3 M48.5,81.29h3.6 M389.5,81.29h-3.6 M48.5,74.93h2.3 M389.5,74.93h-2.3 M48.5,68.58h2.3 M389.5,68.58h-2.3 M48.5,62.22h2.3 M389.5,62.22h-2.3 M48.5,55.87h2.3 M389.5,55.87h-2.3 M48.5,49.51h3.6 M389.5,49.51h-3.6 M48.5,43.15h2.3 M389.5,43.15h-2.3 M48.5,36.80h2.3 M389.5,36.80h-2.3 M48.5,30.44h2.3 M389.5,30.44h-2.3 M48.5,24.09h2.3 M389.5,24.09h-2.3 M48.5,17.73h3.6 M389.5,17.73h-3.6 M48.5,11.37h2.3 M389.5,11.37h-2.3 M48.5,5.02h2.3 M389.5,5.02h-2.3 M54.84,210.5v-2.3 M54.84,0.0v2.3 M75.31,210.5v-2.3 M75.31,0.0v2.3 M95.78,210.5v-2.3 M95.78,0.0v2.3 M116.25,210.5v-3.6 M116.25,0.0v3.6 M136.72,210.5v-2.3 M136.72,0.0v2.3 M157.19,210.5v-2.3 M157.19,0.0v2.3 M177.66,210.5v-2.3 M177.66,0.0v2.3 M198.13,210.5v-2.3 M198.13,0.0v2.3 M218.60,210.5v-3.6 M218.60,0.0v3.6 M239.07,210.5v-2.3 M239.07,0.0v2.3 M259.54,210.5v-2.3 M259.54,0.0v2.3 M280.01,210.5v-2.3 M280.01,0.0v2.3 M300.48,210.5v-2.3 M300.48,0.0v2.3 M320.95,210.5v-3.6 M320.95,0.0v3.6 M341.42,210.5v-2.3 M341.42,0.0v2.3 M361.89,210.5v-2.3 M361.89,0.0v2.3 M382.36,210.5v-2.3 M382.36,0.0v2.3" fill="none" stroke="#7a7a7a" stroke-width="0.8"/>
<g style="filter:grayscale(1)"><text x="43.4" y="211.61" text-anchor="end" font-family="Liberation Sans, sans-serif" font-size="8.5" fill="#000">−0.2</text>
<text x="43.4" y="179.83" text-anchor="end" font-family="Liberation Sans, sans-serif" font-size="8.5" fill="#000">−0.1</text>
<text x="43.4" y="148.05" text-anchor="end" font-family="Liberation Sans, sans-serif" font-size="8.5" fill="#000">0.0</text>
<text x="43.4" y="116.27" text-anchor="end" font-family="Liberation Sans, sans-serif" font-size="8.5" fill="#000">0.1</text>
<text x="43.4" y="84.49" text-anchor="end" font-family="Liberation Sans, sans-serif" font-size="8.5" fill="#000">0.2</text>
<text x="43.4" y="52.71" text-anchor="end" font-family="Liberation Sans, sans-serif" font-size="8.5" fill="#000">0.3</text>
<text x="43.4" y="20.93" text-anchor="end" font-family="Liberation Sans, sans-serif" font-size="8.5" fill="#000">0.4</text>
<text x="116.25" y="223.0" text-anchor="middle" font-family="Liberation Sans, sans-serif" font-size="8.5" fill="#000">−5</text>
<text x="218.60" y="223.0" text-anchor="middle" font-family="Liberation Sans, sans-serif" font-size="8.5" fill="#000">0</text>
<text x="320.95" y="223.0" text-anchor="middle" font-family="Liberation Sans, sans-serif" font-size="8.5" fill="#000">5</text><text class="t" x="52.4" y="15.8" font-size="14.5">v</text>
<text class="t" x="59.0" y="17.900000000000002" font-size="11">w</text>
<rect x="67.2" y="10.10" width="7.40" height="0.95" fill="#111"/><rect x="67.2" y="12.90" width="7.40" height="0.95" fill="#111"/>
<text class="t" x="75.8" y="15.8" font-size="12.5">0</text>
<text class="t" x="81.8" y="15.8" font-size="12.5">.</text>
<text class="t" x="85.0" y="15.8" font-size="12.5">8</text>
<text class="t" x="93.6" y="15.8" font-size="12">,</text>
<text class="t" x="99.8" y="15.8" font-size="12.5">L</text>
<text class="t" x="107.0" y="15.8" font-size="12.5">T</text>
<text class="t" x="115.4" y="17.900000000000002" font-size="11">n</text>
<rect x="124.6" y="10.10" width="7.40" height="0.95" fill="#111"/><rect x="124.6" y="12.90" width="7.40" height="0.95" fill="#111"/>
<text class="t" x="136.0" y="15.8" font-size="12.5">5</text>
<text class="t" x="144.4" y="15.8" font-size="12">,</text>
<text class="t" x="52.0" y="33.9" font-size="14">h</text>
<rect x="60.4" y="34.35" width="4.40" height="0.9" fill="#111"/>
<text class="t" x="66.2" y="35.5" font-size="14">/</text>
<text class="t" x="71.2" y="33.9" font-size="12.5">T</text>
<text class="t" x="79.2" y="36.0" font-size="11">n</text>
<rect x="85.4" y="28.20" width="7.40" height="0.95" fill="#111"/><rect x="85.4" y="31.00" width="7.40" height="0.95" fill="#111"/>
<text class="t" x="95.2" y="33.9" font-size="12.5">1</text>
<text class="t" x="101.6" y="33.9" font-size="12.5">.</text>
<text class="t" x="105.0" y="33.9" font-size="12.5">5</text>
<text class="t" x="209.4" y="246.6" font-size="14" stroke="none">z</text>
<text class="t" x="215.4" y="247.8" font-size="14" stroke="none">/</text>
<text class="t" x="220.6" y="246.6" font-size="12.5" stroke="none">L</text>
<text class="t" font-size="14" transform="translate(14.1,109.7) rotate(-90)">δ</text>
</g>
</svg>
</body></html>
